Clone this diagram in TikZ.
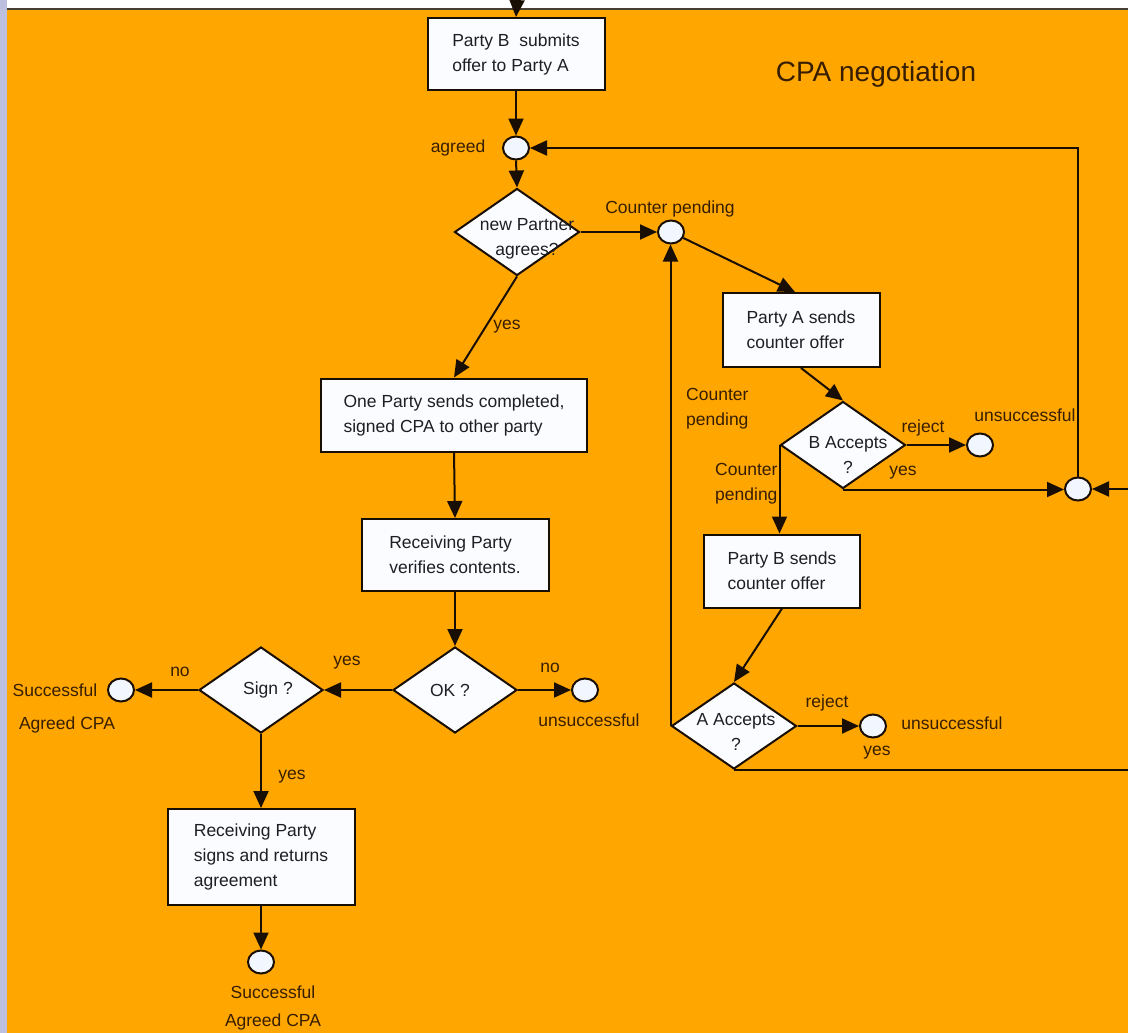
\documentclass[tikz,border=0pt]{standalone}
\usepackage{fontspec}
\setmainfont{Liberation Sans}
\usetikzlibrary{arrows.meta,shapes.geometric}
\definecolor{orangebg}{RGB}{255,166,0}
\definecolor{lav}{RGB}{188,192,222}
\definecolor{linec}{RGB}{25,14,4}
\definecolor{boxfill}{RGB}{250,252,255}
\definecolor{circfill}{RGB}{242,246,255}
\definecolor{boxtext}{RGB}{30,30,35}
\definecolor{lblc}{RGB}{55,30,0}
\begin{document}
\begin{tikzpicture}[x=1pt,y=-1pt,
  txt/.style={font=\fontsize{17.5}{25}\selectfont},
  box/.style={txt, draw=linec, line width=2pt, fill=boxfill, text=boxtext, align=left, inner sep=0pt},
  dia/.style={diamond, draw=linec, line width=2pt, fill=boxfill, inner sep=0pt, minimum width=125pt, minimum height=87pt},
  dtext/.style={txt, text=boxtext, align=center, inner sep=0pt},
  ell/.style={ellipse, draw=linec, line width=2pt, fill=circfill, inner sep=0pt, minimum width=26pt, minimum height=23pt},
  arr/.style={draw=linec, line width=2pt, -{Triangle[length=17pt,width=15pt]}},
  plain/.style={draw=linec, line width=2pt},
  lbl/.style={txt, text=lblc, inner sep=0pt, align=left}]
\useasboundingbox (0,0) rectangle (1128,1033);
% background
\fill[orangebg] (0,0) rectangle (1128,1033);
\fill[lav] (0,0) rectangle (7,1033);
\fill[white] (7,0) rectangle (1128,8);
\draw[line width=2pt, color=linec!80] (7,9) -- (1128,9);

% title
\node[font=\fontsize{28}{32}\selectfont, text=lblc, inner sep=0pt] (title) at (876,74) {CPA negotiation};

% boxes
\node[box, minimum width=177pt, minimum height=72pt] (box1) at (516,54) {Party B\ \ submits\\offer to Party A};
\node[box, minimum width=157pt, minimum height=74pt] (box2) at (801,330) {Party A sends\\counter offer};
\node[box, minimum width=156pt, minimum height=73pt] (box3) at (782,571) {Party B sends\\counter offer};
\node[box, minimum width=266pt, minimum height=73pt] (box4) at (454,415) {One Party sends completed,\\signed CPA to other party};
\node[box, minimum width=187pt, minimum height=72pt] (box5) at (455,555) {Receiving Party\\verifies contents.};
\node[box, minimum width=187pt, minimum height=96pt] (box6) at (261,857) {Receiving Party\\signs and returns\\agreement};

% diamonds
\node[dia] (d1) at (517,232) {};
\node[dtext] (d1t) at (527,239) {new Partner\\agrees?};
\node[dia] (dB) at (843,445) {};
\node[dtext] (dBt) at (848,455) {B Accepts\\?};
\node[dia, minimum height=86pt] (dA) at (734,726) {};
\node[dtext] (dAt) at (736,732) {A Accepts\\?};
\node[dia, minimum width=124pt, minimum height=86pt] (dOK) at (455,690) {};
\node[dtext] (dOKt) at (450,690) {OK ?};
\node[dia, minimum width=124pt, minimum height=86pt] (dS) at (261,690) {};
\node[dtext] (dSt) at (268,690) {Sign ?};

% circles
\node[ell] (cAg) at (516,148) {};
\node[ell] (cCP) at (671,232) {};
\node[ell] (cB) at (980,445) {};
\node[ell] (cJ) at (1078,489) {};
\node[ell] (cA) at (873,726) {};
\node[ell] (cOK) at (585,690) {};
\node[ell] (cS) at (121,690) {};
\node[ell] (cEnd) at (261,962) {};

% free ends
\coordinate (topin) at (517,0);
\coordinate (rin) at (1128,489);
\coordinate (rbot) at (1128,769);

% connectors
\draw[arr] (topin) -- (box1.north);
\draw[arr] (box1.south) -- (cAg.north);
\draw[arr] (cAg.south) -- (d1.north);
\draw[arr] (d1.east) -- (cCP.west);
\draw[arr] (cCP) -- ([xshift=-6pt]box2.north);
\draw[arr] (box2.south) -- (dB.north);
\draw[arr] (dB.east) -- (cB.west);
\draw[arr] (dB.west) -- (dB.west |- box3.north);
\draw[arr] (dB.south) -- (dB.south -| cJ.west);
\draw[arr] (rin) -- (cJ.east);
\draw[arr] (cJ.north) |- (cAg.east);
\draw[arr] (box3.south) -- (dA.north);
\draw[arr] (dA.east) -- (cA.west);
\draw[arr] (dA.west) -- (dA.west |- cCP.south);
\draw[plain] (dA.south) -- (dA.south -| rbot);
\draw[arr] (d1.south) -- (box4.north);
\draw[arr] (box4.south) -- (box5.north);
\draw[arr] (box5.south) -- (dOK.north);
\draw[arr] (dOK.west) -- (dS.east);
\draw[arr] (dOK.east) -- (cOK.west);
\draw[arr] (dS.west) -- (cS.east);
\draw[arr] (dS.south) -- (box6.north);
\draw[arr] (box6.south) -- (cEnd.north);

% labels
\node[lbl] (l1) at (458,148) {agreed};
\node[lbl] (l2) at (670,209) {Counter pending};
\node[lbl] (l3) at (507,327) {yes};
\node[lbl, anchor=west] (l4) at (686,409) {Counter\\pending};
\node[lbl] (l5) at (923,428) {reject};
\node[lbl] (l6) at (1025,415) {unsuccessful};
\node[lbl] (l7) at (903,473) {yes};
\node[lbl, anchor=west] (l8) at (715,484) {Counter\\pending};
\node[lbl] (l9) at (827,703) {reject};
\node[lbl] (l10) at (952,723) {unsuccessful};
\node[lbl] (l11) at (877,753) {yes};
\node[lbl] (l12) at (180,672) {no};
\node[lbl] (l13) at (55,690) {Successful};
\node[lbl] (l14) at (67,725) {Agreed CPA};
\node[lbl] (l15) at (347,663) {yes};
\node[lbl] (l16) at (550,668) {no};
\node[lbl] (l17) at (589,720) {unsuccessful};
\node[lbl] (l18) at (292,777) {yes};
\node[lbl] (l19) at (273,992) {Successful};
\node[lbl] (l20) at (273,1022) {Agreed CPA};
\end{tikzpicture}
\end{document}
